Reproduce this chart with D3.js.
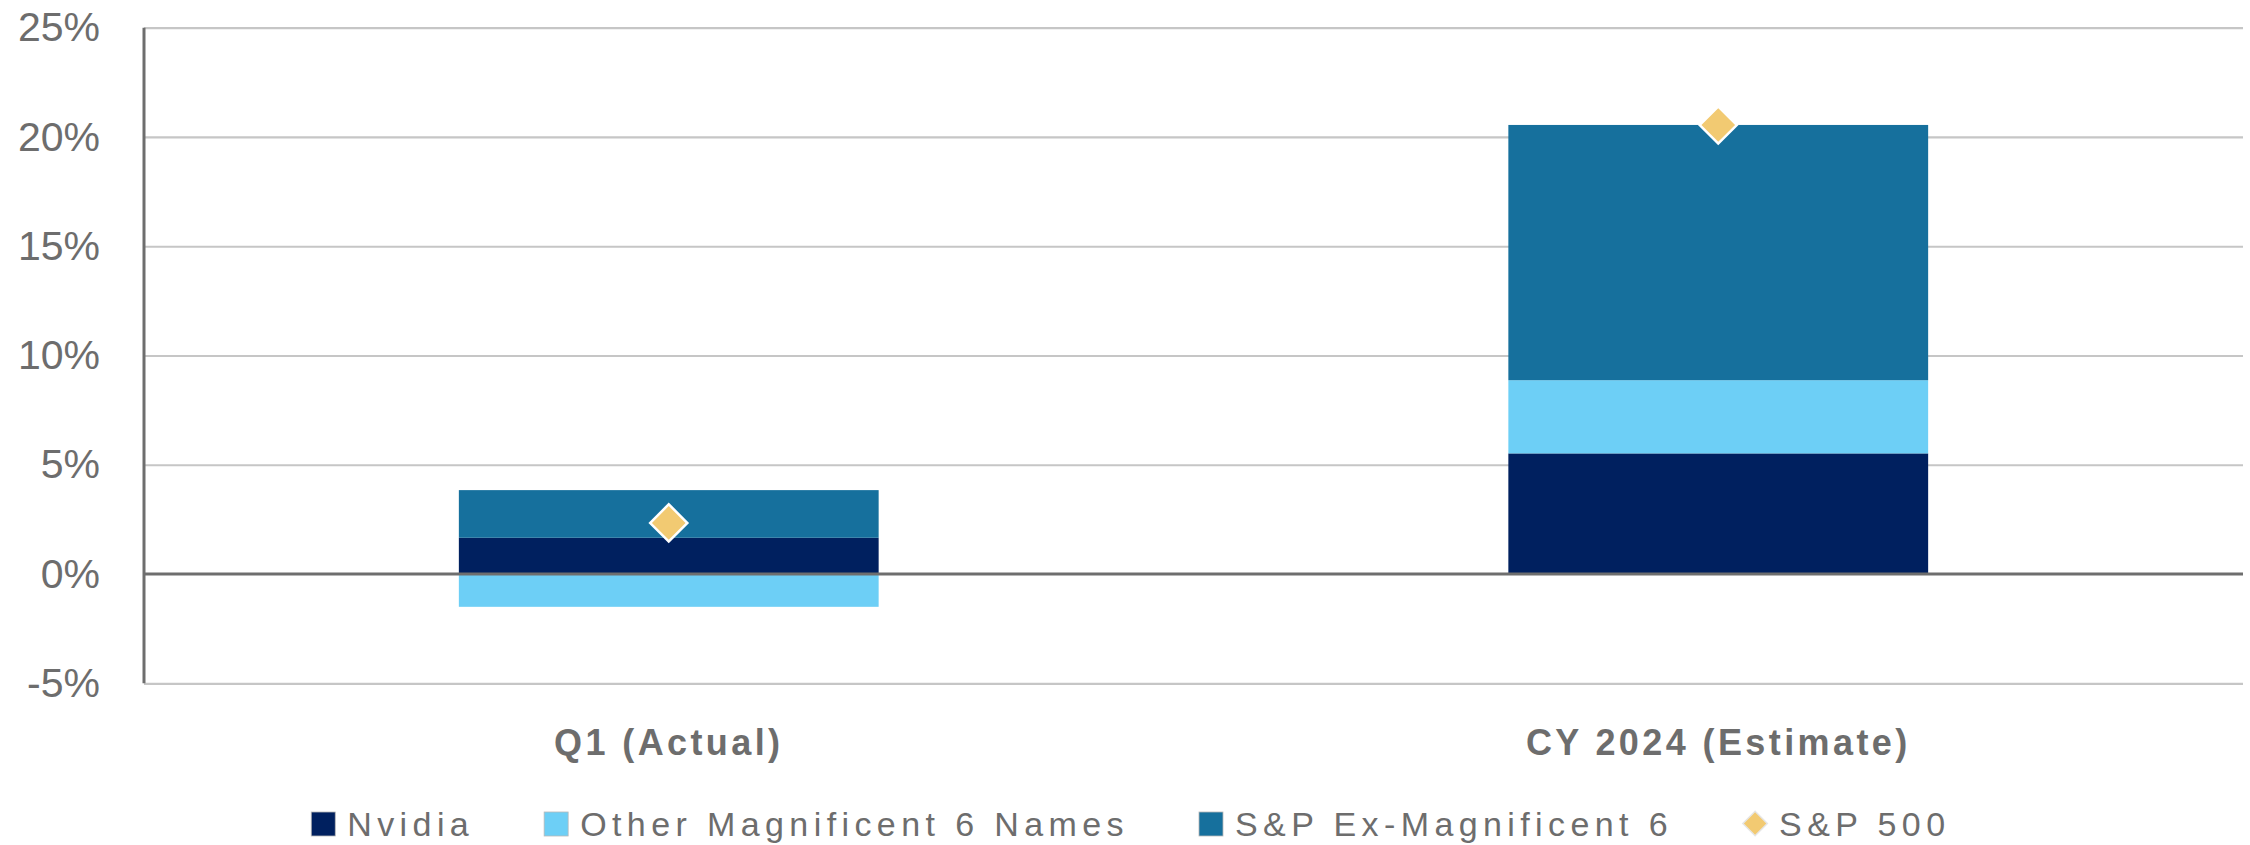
<!DOCTYPE html>
<html>
<head>
<meta charset="utf-8">
<script src="https://cdn.jsdelivr.net/npm/d3@7"></script>
<style>
  html, body { margin: 0; padding: 0; background: #ffffff; }
  svg { display: block; font-family: "Liberation Sans", Arial, sans-serif; }
</style>
</head>
<body>
<svg id="chart" width="2250" height="845"></svg>
<script>
// Earnings growth contribution, percentage points
const categories = ["Q1 (Actual)", "CY 2024 (Estimate)"];
const nvidia     = [1.66, 5.52];
const otherMag6  = [-1.50, 3.35];
const exMag6     = [2.18, 11.68];
const sp500      = [2.34, 20.55];

const seriesNames  = ["Nvidia", "Other Magnificent 6 Names", "S&P Ex-Magnificent 6"];
const seriesColors = ["#00205f", "#6dcff6", "#16709d"];
const totalName  = "S&P 500";
const totalColor = "#f2ca72";
const yTicks = [-5, 0, 5, 10, 15, 20, 25];

const textGray = "#6d6d6d";

const svg = d3.select("#chart");
const plot = { left: 144, right: 2243, top: 27.7, bottom: 683.3 };

const y = d3.scaleLinear().domain([-5, 25]).range([plot.bottom, plot.top]);
const x = d3.scaleBand().domain(categories).range([plot.left, plot.right])
  .paddingInner(0.6).paddingOuter(0.3);

// table for the stack
const rows = categories.map((c, i) => ({
  cat: c,
  [seriesNames[0]]: nvidia[i],
  [seriesNames[1]]: otherMag6[i],
  [seriesNames[2]]: exMag6[i]
}));
const stacked = d3.stack().keys(seriesNames).offset(d3.stackOffsetDiverging)(rows);

// gridlines
const grid = svg.append("g")
  .attr("transform", `translate(${plot.left},0)`)
  .call(d3.axisLeft(y).tickValues(yTicks.filter(t => t !== 0))
    .tickSize(-(plot.right - plot.left)).tickFormat(""));
grid.select(".domain").remove();
grid.selectAll("line").attr("stroke", "#c6c6c6").attr("stroke-width", 2.2);

// y tick labels
const yAxis = svg.append("g")
  .attr("transform", `translate(${plot.left},0)`)
  .call(d3.axisLeft(y).tickValues(yTicks).tickSize(0).tickPadding(44)
    .tickFormat(d => d + "%"));
yAxis.select(".domain").remove();
yAxis.selectAll("text")
  .attr("fill", textGray)
  .style("font-size", "41px")
  .style("font-family", "'Liberation Sans', Arial, sans-serif");

// stacked bars
svg.append("g").selectAll("g")
  .data(stacked)
  .join("g")
  .attr("fill", (d, i) => seriesColors[i])
  .selectAll("rect")
  .data(d => d)
  .join("rect")
  .attr("x", d => x(d.data.cat))
  .attr("width", x.bandwidth())
  .attr("y", d => y(Math.max(d[0], d[1])))
  .attr("height", d => Math.abs(y(d[0]) - y(d[1])));

// vertical axis line and zero line
svg.append("line")
  .attr("x1", plot.left).attr("x2", plot.left)
  .attr("y1", plot.top).attr("y2", plot.bottom)
  .attr("stroke", "#6e6e6e").attr("stroke-width", 3);
svg.append("line")
  .attr("x1", plot.left).attr("x2", plot.right)
  .attr("y1", y(0)).attr("y2", y(0))
  .attr("stroke", "#6e6e6e").attr("stroke-width", 3);

// S&P 500 totals as diamonds
const diamond = d3.symbol().type(d3.symbolSquare).size(690);
svg.append("g").selectAll("path")
  .data(categories.map((c, i) => ({ cat: c, v: sp500[i] })))
  .join("path")
  .attr("d", diamond)
  .attr("transform", d => `translate(${x(d.cat) + x.bandwidth() / 2},${y(d.v)}) rotate(45)`)
  .attr("fill", totalColor)
  .attr("stroke", "#ffffff")
  .attr("stroke-width", 2.5);

// category labels
svg.append("g").selectAll("text")
  .data(categories)
  .join("text")
  .attr("x", d => x(d) + x.bandwidth() / 2)
  .attr("y", 755)
  .attr("text-anchor", "middle")
  .attr("fill", textGray)
  .style("font-size", "36px")
  .style("font-weight", "bold")
  .style("letter-spacing", "3.4px")
  .text(d => d);

// legend
const legendItems = seriesNames.map((n, i) => ({ name: n, color: seriesColors[i], kind: "square" }))
  .concat([{ name: totalName, color: totalColor, kind: "diamond" }]);
const legend = svg.append("g");
const itemGroups = legend.selectAll("g")
  .data(legendItems)
  .join("g");
itemGroups.each(function (d) {
  const g = d3.select(this);
  if (d.kind === "square") {
    g.append("rect")
      .attr("x", 0).attr("y", 812)
      .attr("width", 24).attr("height", 24)
      .attr("fill", d.color)
      .attr("stroke", "#b8b8b8").attr("stroke-width", 0.8);
  } else {
    g.append("path")
      .attr("d", d3.symbol().type(d3.symbolSquare).size(300)())
      .attr("transform", "translate(12,823.5) rotate(45)")
      .attr("fill", d.color)
      .attr("stroke", "#e6e6e6").attr("stroke-width", 1.5);
  }
  g.append("text")
    .attr("x", 36)
    .attr("y", 836)
    .attr("fill", textGray)
    .style("font-size", "34px")
    .style("letter-spacing", "5.4px")
    .text(d.name);
});
// place items side by side, centred under the chart
let cursor = 0;
const offsets = [];
itemGroups.each(function () {
  const w = this.getBBox().width;
  offsets.push(cursor);
  cursor += w + 70;
});
const totalWidth = cursor - 70;
const startX = 1131 - totalWidth / 2;
itemGroups.attr("transform", (d, i) => `translate(${startX + offsets[i]},0)`);
</script>
</body>
</html>
